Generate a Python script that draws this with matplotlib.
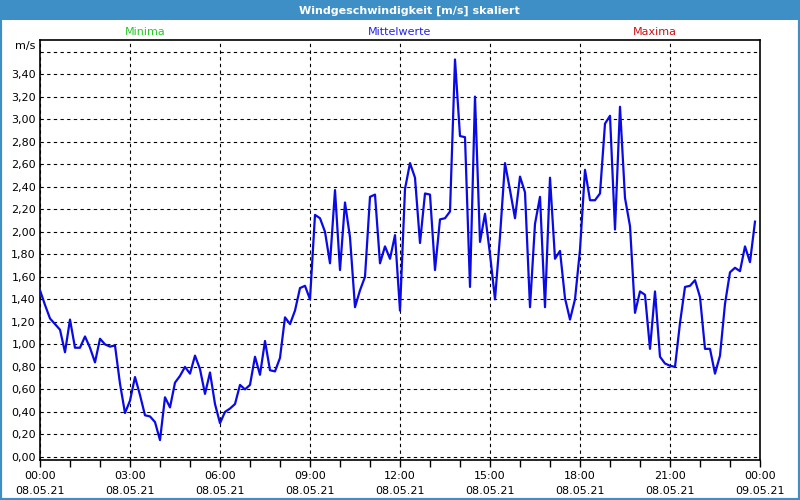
import numpy as np
import pandas as pd
import matplotlib
matplotlib.use("Agg")
import matplotlib.pyplot as plt
import matplotlib.dates as mdates
from matplotlib.patches import Rectangle
from matplotlib.ticker import FuncFormatter

# Windgeschwindigkeit, 10-Minuten-Werte vom 08.05.21
wind = [
    1.48, 1.35, 1.23, 1.18, 1.13, 0.93, 1.22, 0.97, 0.97, 1.07, 0.97, 0.84,
    1.05, 1.00, 0.98, 0.99, 0.65, 0.39, 0.50, 0.71, 0.55, 0.37, 0.36, 0.31,
    0.15, 0.53, 0.44, 0.66, 0.72, 0.80, 0.74, 0.90, 0.78, 0.56, 0.75, 0.47,
    0.30, 0.40, 0.43, 0.47, 0.64, 0.60, 0.64, 0.89, 0.73, 1.03, 0.77, 0.76,
    0.88, 1.24, 1.18, 1.30, 1.50, 1.52, 1.40, 2.15, 2.12, 2.00, 1.72, 2.37,
    1.66, 2.26, 1.95, 1.33, 1.48, 1.60, 2.31, 2.33, 1.72, 1.87, 1.76, 1.97,
    1.30, 2.38, 2.61, 2.48, 1.90, 2.34, 2.33, 1.66, 2.11, 2.12, 2.18, 3.53,
    2.85, 2.84, 1.51, 3.20, 1.91, 2.16, 1.80, 1.40, 1.96, 2.61, 2.37, 2.12,
    2.49, 2.35, 1.33, 2.07, 2.31, 1.33, 2.48, 1.76, 1.83, 1.41, 1.22, 1.40,
    1.84, 2.55, 2.28, 2.28, 2.34, 2.96, 3.03, 2.02, 3.11, 2.30, 2.05, 1.28,
    1.47, 1.44, 0.96, 1.47, 0.89, 0.83, 0.81, 0.80, 1.19, 1.51, 1.52, 1.57,
    1.42, 0.96, 0.96, 0.74, 0.90, 1.36, 1.64, 1.68, 1.65, 1.87, 1.73, 2.09,
]
times = pd.date_range("2021-05-08 00:00", periods=len(wind), freq="10min")

title = "Windgeschwindigkeit [m/s] skaliert"
top_labels = ["Minima", "Mittelwerte", "Maxima"]
top_colors = ["#22cc22", "#2222ee", "#cc1111"]
yticks = np.arange(0, 3.61, 0.2)

frame_blue = "#3d8fc6"
plt.rcParams["font.family"] = "DejaVu Sans"

fig = plt.figure(figsize=(8, 5), dpi=100)
fig.patch.set_facecolor("white")

# blauer Rahmen + Titelleiste
fig.patches.append(Rectangle((0, 0), 1, 1, transform=fig.transFigure,
                             fill=False, edgecolor=frame_blue, linewidth=3))
fig.patches.append(Rectangle((0, 0.96), 1, 0.04, transform=fig.transFigure,
                             facecolor=frame_blue, edgecolor="none"))
fig.text(0.512, 0.979, title, color="white", fontsize=8, fontweight="bold",
         ha="center", va="center")

ax = fig.add_axes([0.05, 0.08, 0.90, 0.84])
ax.plot(times, wind, color="#0a0ae6", linewidth=1.6, zorder=3)

ax.set_xlim(pd.Timestamp("2021-05-08 00:00"), pd.Timestamp("2021-05-09 00:00"))
ax.set_ylim(-0.027, 3.703)

ax.xaxis.set_major_locator(mdates.HourLocator(byhour=range(0, 24, 3)))
ax.xaxis.set_minor_locator(mdates.HourLocator())
ax.xaxis.set_major_formatter(mdates.DateFormatter("%H:%M\n%d.%m.%y"))
ax.set_yticks(yticks)
ax.yaxis.set_major_formatter(FuncFormatter(
    lambda v, p: "" if v > 3.5 else f"{v:.2f}".replace(".", ",")))

ax.tick_params(axis="x", which="both", direction="out", length=5, width=1,
               labelsize=8, pad=3)
ax.tick_params(axis="y", length=0, labelsize=8, pad=3)
for lbl in ax.get_xticklabels():
    lbl.set_linespacing(1.6)

ax.grid(True, which="major", color="black", linestyle=(0, (3, 3)), linewidth=0.8)
for s in ax.spines.values():
    s.set_linewidth(1.2)
    s.set_color("black")

ax.text(-0.006, 0.985, "m/s", transform=ax.transAxes, ha="right", va="center",
        fontsize=8)
for xpos, lbl, col in zip([0.146, 0.5, 0.854], top_labels, top_colors):
    ax.text(xpos, 1.02, lbl, transform=ax.transAxes, ha="center", va="center",
            fontsize=8, color=col)

fig.savefig("out.png", dpi=100)
